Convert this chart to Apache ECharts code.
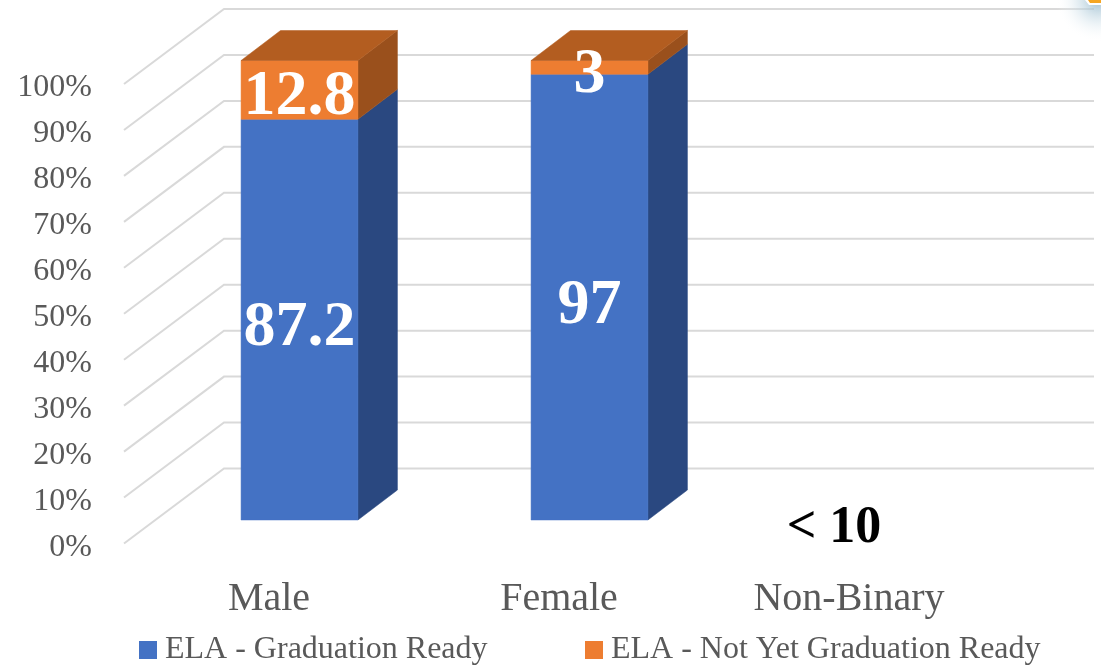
<!DOCTYPE html>
<html>
<head>
<meta charset="utf-8">
<title>ELA graduation readiness</title>
<style>
  html, body { margin: 0; padding: 0; background: #fff; }
  #chart { width: 1101px; height: 667px; }
</style>
<script src="https://cdn.jsdelivr.net/npm/echarts@6/dist/echarts.min.js"></script>
</head>
<body>
<div id="chart"></div>
<script>
const categories = ['Male', 'Female', 'Non-Binary']
const gradReady = [87.2, 97, null]
const notYetReady = [12.8, 3, null]
const categoryNotes = [null, null, '< 10']
const yTicks = [0, 10, 20, 30, 40, 50, 60, 70, 80, 90, 100]

const FONT = '"Liberation Serif", serif'
const BLUE = '#4472c4'
const ORANGE = '#ed7d31'
// depth of the fake 3d floor
const WALL_DX = 100
const WALL_DY = -75
const BAR_DEPTH_DX = 39.5
const BAR_DEPTH_DY = -30
const BAR_OFFSET_DX = 30.5
const BAR_OFFSET_DY = -23.5

function poly(points, fill) {
  return { type: 'polygon', shape: { points }, style: { fill, stroke: fill, lineWidth: 0.5 } }
}

function renderWall(params, api) {
  const rect = params.coordSys
  const y = api.coord([0, api.value(0)])[1]
  return {
    type: 'polyline',
    silent: true,
    shape: { points: [[rect.x, y], [rect.x + WALL_DX, y + WALL_DY], [rect.x + rect.width + WALL_DX, y + WALL_DY]] },
    style: { stroke: '#d9d9d9', lineWidth: 2, fill: 'none' }
  }
}

function barRenderer(colors, labelDy) {
  return function (params, api) {
    const idx = api.value(0)
    const from = api.coord([idx, api.value(1)])
    const to = api.coord([idx, api.value(2)])
    const width = api.size([1, 0])[0] * 0.403
    const x0 = from[0] + BAR_OFFSET_DX - width / 2
    const x1 = x0 + width
    const yb = from[1] + BAR_OFFSET_DY
    const yt = to[1] + BAR_OFFSET_DY
    const children = [
      poly([[x1, yb], [x1 + BAR_DEPTH_DX, yb + BAR_DEPTH_DY], [x1 + BAR_DEPTH_DX, yt + BAR_DEPTH_DY], [x1, yt]], colors.side),
      poly([[x0, yb], [x1, yb], [x1, yt], [x0, yt]], colors.front)
    ]
    if (colors.top) {
      children.push(poly([[x0, yt], [x1, yt], [x1 + BAR_DEPTH_DX, yt + BAR_DEPTH_DY], [x0 + BAR_DEPTH_DX, yt + BAR_DEPTH_DY]], colors.top))
    }
    children.push({
      type: 'text',
      style: {
        text: String(api.value(3)),
        x: (x0 + x1) / 2,
        y: (yb + yt) / 2 + labelDy,
        align: 'center',
        verticalAlign: 'middle',
        fill: '#fff',
        font: 'bold 64px ' + FONT
      }
    })
    return { type: 'group', children }
  }
}

function renderNote(params, api) {
  const p = api.coord([api.value(0), 0])
  return {
    type: 'text',
    style: {
      text: categoryNotes[api.value(0)],
      x: p[0] - 15,
      y: p[1] - 15,
      align: 'center',
      verticalAlign: 'middle',
      fill: '#000',
      font: 'bold 52px ' + FONT
    }
  }
}

// [category, stack start, stack end, own value]
function stackRows(values, base) {
  return values
    .map((v, i) => (v == null ? null : [i, base ? base[i] : 0, (base ? base[i] : 0) + v, v]))
    .filter(Boolean)
}

const legendBase = {
  top: 629,
  icon: 'rect',
  itemWidth: 18,
  itemHeight: 18,
  textStyle: { fontFamily: FONT, fontSize: 32, color: '#595959', padding: [6, 0, 0, 3] }
}

const chart = echarts.init(document.getElementById('chart'))
chart.setOption({
  animation: false,
  backgroundColor: '#fff',
  grid: { left: 124, top: 84, width: 870, height: 459.5 },
  legend: [
    Object.assign({}, legendBase, { data: ['ELA - Graduation Ready'], left: 134 }),
    Object.assign({}, legendBase, { data: ['ELA - Not Yet Graduation Ready'], left: 580 })
  ],
  xAxis: {
    type: 'category',
    data: categories,
    axisLine: { show: false },
    axisTick: { show: false },
    axisLabel: { fontFamily: FONT, fontSize: 40, color: '#595959', margin: 36 }
  },
  yAxis: {
    type: 'value',
    min: 0,
    max: 100,
    interval: 10,
    axisLine: { show: false },
    axisTick: { show: false },
    splitLine: { show: false },
    axisLabel: {
      margin: 32,
      formatter: '{t|{value}%}',
      rich: {
        t: { fontFamily: FONT, fontSize: 32, color: '#595959', padding: [8, 0, 0, 0] }
      }
    }
  },
  // bit of the next slide's icon poking into the corner of the screenshot
  graphic: [
    {
      type: 'circle',
      z: 10,
      silent: true,
      shape: { cx: 1098, cy: 0, r: 42 },
      style: {
        fill: {
          type: 'radial', x: 0.5, y: 0.5, r: 0.5,
          colorStops: [
            { offset: 0, color: 'rgba(150,185,205,0.9)' },
            { offset: 0.5, color: 'rgba(200,220,230,0.45)' },
            { offset: 1, color: 'rgba(255,255,255,0)' }
          ]
        }
      }
    },
    {
      type: 'polygon',
      z: 11,
      silent: true,
      shape: { points: [[1085, 0], [1101, 0], [1101, 5], [1089, 5]] },
      style: { fill: '#fff' }
    },
    {
      type: 'polygon',
      z: 12,
      silent: true,
      shape: { points: [[1088, 0], [1101, 0], [1101, 3], [1090, 3]] },
      style: { fill: '#f5a623' }
    }
  ],
  series: [
    {
      name: 'walls',
      type: 'custom',
      renderItem: renderWall,
      encode: { y: 0 },
      data: yTicks.map(t => [t]),
      silent: true,
      z: 1
    },
    {
      name: 'ELA - Graduation Ready',
      type: 'custom',
      itemStyle: { color: BLUE },
      renderItem: barRenderer({ front: BLUE, side: '#2a4880' }, 9),
      encode: { x: 0, y: 2 },
      data: stackRows(gradReady),
      z: 2
    },
    {
      name: 'ELA - Not Yet Graduation Ready',
      type: 'custom',
      itemStyle: { color: ORANGE },
      renderItem: barRenderer({ front: ORANGE, side: '#9a501c', top: '#b35d20' }, 8),
      encode: { x: 0, y: 2 },
      data: stackRows(notYetReady, gradReady),
      z: 3
    },
    {
      name: 'notes',
      type: 'custom',
      renderItem: renderNote,
      encode: { x: 0 },
      data: categoryNotes.map((n, i) => (n ? [i] : null)).filter(Boolean),
      z: 4
    }
  ]
})
</script>
</body>
</html>
